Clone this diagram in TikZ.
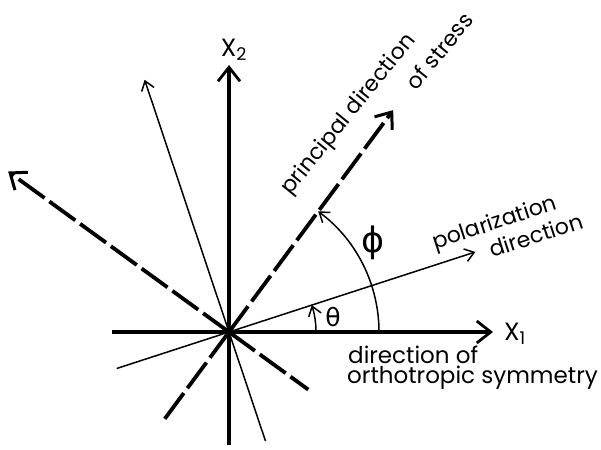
\documentclass[tikz,border=0pt]{standalone}
\usepackage{fontspec}
\setmainfont{Poppins}
\newfontfamily\grk{DejaVu Sans}
\usetikzlibrary{arrows.meta}
\begin{document}
\begin{tikzpicture}[x=1pt,y=1pt,
  axisarr/.style={line width=3.3pt,-{Straight Barb[length=14pt,width=22pt,line width=2.8pt]}},
  axisline/.style={line width=3.3pt},
  dasharr/.style={line width=3.8pt,dash pattern=on 32pt off 6pt,-{Straight Barb[length=14pt,width=22pt,line width=3pt]}},
  dashline/.style={line width=3.8pt,dash pattern=on 32pt off 6pt},
  thinarr/.style={line width=1.5pt,-{Straight Barb[length=9pt,width=13pt,line width=1.5pt]}},
  thinline/.style={line width=1.5pt},
  lbl/.style={inner sep=0pt,font=\fontsize{22}{20}\selectfont},
  ]
\useasboundingbox (-229,-117) rectangle (372,332);
\coordinate (O) at (0,0);
\coordinate (x1) at (264,0);
\coordinate (x1m) at (-117,0);
\coordinate (x2) at (0,267);
\coordinate (x2m) at (0,-113);
\coordinate (p) at (53.5:276);
\coordinate (pm) at (233.5:114);
\coordinate (q) at (144:273);
\coordinate (qm) at (-36:98);
\coordinate (r) at (18:259);
\coordinate (rm) at (198:118);
\coordinate (s) at (108.5:266);
\coordinate (sm) at (-71.5:115);
% thin lines
\draw[thinline] (O) -- (rm);
\draw[thinarr] (O) -- (r);
\draw[thinline] (O) -- (sm);
\draw[thinarr] (O) -- (s);
% dashed principal directions
\draw[dashline] (O) -- (pm);
\draw[dasharr] (O) -- (p);
\draw[dashline] (O) -- (qm);
\draw[dasharr] (O) -- (q);
% axes
\draw[axisline] (O) -- (x1m);
\draw[axisarr] (O) -- (x1);
\draw[axisline] (O) -- (x2m);
\draw[axisarr] (O) -- (x2);
% angle arcs
\draw[thinarr] (150,0) arc[start angle=0,end angle=53.5,radius=150];
\draw[thinarr] (87,0) arc[start angle=0,end angle=18,radius=87];
% labels
\node[lbl,font=\fontsize{25}{25}\selectfont] (lx1) at (286,-2) {X\textsubscript{1}};
\node[lbl,font=\fontsize{25}{25}\selectfont] (lx2) at (5,282) {X\textsubscript{2}};
\node[lbl,font=\grk\fontsize{25}{25}\selectfont] (lth) at (104,15) {θ};
\node[lbl,font=\grk\fontsize{35}{35}\selectfont] (lph) at (144,89) {ϕ};
\node[lbl,rotate=51] (lp1) at (120,217) {principal direction};
\node[lbl,rotate=51] (lp2) at (210,281) {of stress};
\node[lbl,rotate=18] (lpo1) at (266,108) {polarization};
\node[lbl,rotate=18] (lpo2) at (307,97) {direction};
\node[lbl,anchor=base west,font=\fontsize{23}{20}\selectfont] (ld1) at (119,-31) {direction of};
\node[lbl,anchor=base west,font=\fontsize{23}{20}\selectfont] (ld2) at (118,-51) {orthotropic symmetry};
\end{tikzpicture}
\end{document}
